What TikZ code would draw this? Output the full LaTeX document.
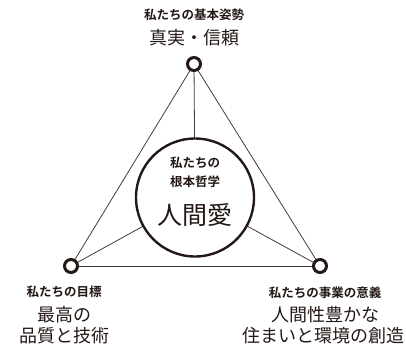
\documentclass[tikz,border=0pt]{standalone}
\usepackage{fontspec}
\newfontfamily\cjk{Noto Sans CJK JP}[BoldFont=* Bold]
\definecolor{ink}{HTML}{231815}
\pgfdeclarelayer{bg}
\pgfsetlayers{bg,main}
\begin{document}
\begin{tikzpicture}[x=1pt,y=-1pt,
  vtx/.style={circle,draw=ink,line width=3pt,fill=white,minimum size=13pt,inner sep=0pt},
  core/.style={circle,draw=ink,line width=2.4pt,fill=white,minimum size=118pt,inner sep=0pt},
  edge/.style={draw=ink!85,line width=0.8pt},
  lbl/.style={font=\cjk\bfseries\fontsize{12.5}{14}\selectfont,text=ink,inner sep=0pt},
  main/.style={font=\cjk\fontsize{18}{22}\selectfont,text=ink,inner sep=0pt,align=center}]
\useasboundingbox (0,0) rectangle (406,350);
\node[core] (c) at (195,197.5) {};
\node[vtx] (t) at (194,64) {};
\node[vtx] (l) at (71,266) {};
\node[vtx] (r) at (320,266) {};
\begin{pgfonlayer}{bg}
\draw[edge] (t.center) -- (l.center);
\draw[edge] (t.center) -- (r.center);
\draw[edge] (l.center) -- (r.center);
\draw[edge] (c.center) -- (t.center);
\draw[edge] (c.center) -- (l.center);
\draw[edge] (c.center) -- (r.center);
\end{pgfonlayer}
\node[lbl] (ct1) at (195,163) {私たちの};
\node[lbl] (ct2) at (195,182) {根本哲学};
\node[main,font=\cjk\fontsize{25}{28}\selectfont] (ct3) at (195,215) {人間愛};
\node[lbl] (tl) at (194,15) {私たちの基本姿勢};
\node[main] (tm) at (194,38) {真実・信頼};
\node[lbl] (ll) at (64,292) {私たちの目標};
\node[main] (lm1) at (64,315) {最高の};
\node[main] (lm2) at (64,336) {品質と技術};
\node[lbl] (rl) at (325,293) {私たちの事業の意義};
\node[main] (rm1) at (325,315) {人間性豊かな};
\node[main] (rm2) at (323.5,336) {住まいと環境の創造};
\end{tikzpicture}
\end{document}
